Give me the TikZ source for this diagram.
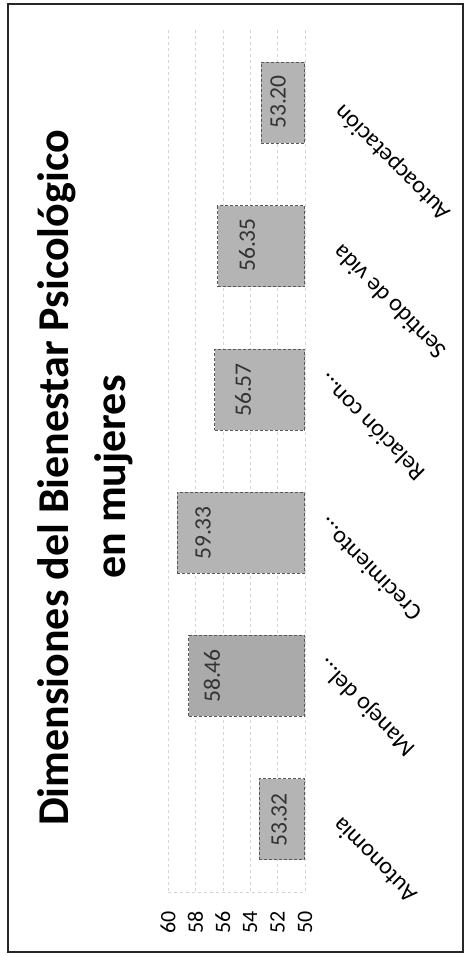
\documentclass[tikz,border=0pt]{standalone}
\usepackage{fontspec}
\setmainfont{Carlito}
\definecolor{barA}{RGB}{180,180,180}
\definecolor{barB}{RGB}{170,170,170}
\definecolor{gridc}{RGB}{212,212,212}
\begin{document}
\begin{tikzpicture}[x=1pt,y=-1pt,
  bar/.style={fill=barA, draw=black!65, densely dashed, line width=0.7pt, minimum height=81pt, inner sep=0pt, anchor=east},
  vallab/.style={rotate=90, font=\fontsize{23.5}{27}\selectfont, text=black!80, inner sep=0pt},
  catlab/.style={rotate=135, anchor=east, font=\fontsize{24}{28}\selectfont, inner sep=0pt},
  ticklab/.style={rotate=90, font=\fontsize{22}{26}\selectfont, inner sep=0pt},
  gridline/.style={draw=gridc, dashed, line width=0.6pt},
  titlefont/.style={rotate=90, anchor=base, font=\bfseries\fontsize{44}{52}\selectfont, inner sep=0pt}]
\useasboundingbox (0,0) rectangle (466,957);
% frame
\draw[black!85, line width=1.1pt] (8,4) rectangle (463,952);
% grid
\foreach \v in {60,58,56,54,52} {
  \draw[gridline] ({305-(\v-50)*13.7},30) -- ({305-(\v-50)*13.7},892);
}
\coordinate (axtop) at (305,30);
\coordinate (axbot) at (305,892);
\coordinate (vaxl) at (168,892);
\draw[gridline] (axtop) -- (axbot);
\draw[gridline] (vaxl) -- (axbot);
% tick labels
\foreach \v in {60,58,56,54,52,50} {
  \node[ticklab] (t\v) at ({305-(\v-50)*13.7},922) {\v};
}
% title
\node[titlefont] (title1) at (68,478) {Dimensiones del Bienestar Psicológico};
\node[titlefont] (title2) at (125,477) {en mujeres};
% bars
\node[bar, minimum width=43.8pt] (b1) at (305,103) {};
\node[bar, minimum width=87.0pt] (b2) at (305,246.2) {};
\node[bar, minimum width=90.0pt] (b3) at (305,389.4) {};
\node[bar, minimum width=127.8pt] (b4) at (305,532.6) {};
\node[bar, minimum width=115.9pt, fill=barB] (b5) at (305,675.8) {};
\node[bar, minimum width=45.5pt] (b6) at (305,819) {};
% value labels
\node[vallab] (v1) at (278,102) {53.20};
\node[vallab] (v2) at (247,245) {56.35};
\node[vallab] (v3) at (243,390) {56.57};
\node[vallab] (v4) at (203,533) {59.33};
\node[vallab] (v5) at (212,676) {58.46};
\node[vallab] (v6) at (279,820) {53.32};
% category labels
\node[catlab] (c1) at (339,108) {Autoacpetación};
\node[catlab] (c2) at (336,249) {Sentido de vida};
\node[catlab] (c3) at (322,378) {Relación con…};
\node[catlab] (c4) at (322,522) {Crecimiento…};
\node[catlab] (c5) at (322,662) {Manejo del…};
\node[catlab] (c6) at (336,822) {Autonomia};
\end{tikzpicture}
\end{document}
